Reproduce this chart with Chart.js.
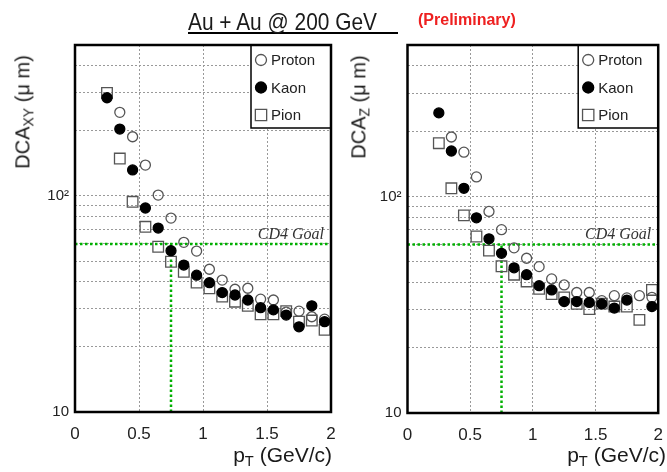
<!DOCTYPE html>
<html>
<head>
<meta charset="utf-8">
<script src="https://cdn.jsdelivr.net/npm/chart.js@4/dist/chart.umd.min.js"></script>
<style>
  body { margin: 0; background: #fff; }
  #wrap { position: relative; width: 667px; height: 472px; overflow: hidden;
          font-family: "Liberation Sans", Arial, sans-serif; color: #1a1a1a; }
  canvas { position: absolute; top: 0; }
  .lbl { position: absolute; white-space: nowrap; }
  .ytitle { font-size: 20px; transform: translate(-50%, -50%) rotate(-90deg); }
  .xtitle { font-size: 21px; transform: translateX(-100%); }
  sub { font-size: 70%; vertical-align: -0.3em; }
</style>
</head>
<body>
<div id="wrap">
  <canvas id="cxy" width="340" height="472" style="left:0;width:340px;height:472px"></canvas>
  <canvas id="cz" width="327" height="472" style="left:340px;width:327px;height:472px"></canvas>

  <div class="lbl" style="left:188px;top:8px;width:210px;height:24px;border-bottom:2px solid #000;">
    <span style="display:inline-block;font-size:24px;transform:scaleX(0.87);transform-origin:left;">Au + Au @ 200 GeV</span>
  </div>
  <div class="lbl" style="left:418px;top:11px;font-size:16px;font-weight:bold;color:#ee2020;">(Preliminary)</div>

  <div class="lbl ytitle" style="left:24px;top:112px;">DCA<sub>XY</sub> (μ m)</div>
  <div class="lbl ytitle" style="left:360px;top:107px;">DCA<sub>Z</sub> (μ m)</div>
  <div class="lbl xtitle" style="left:332px;top:443px;">p<sub>T</sub> (GeV/c)</div>
  <div class="lbl xtitle" style="left:666px;top:443px;">p<sub>T</sub> (GeV/c)</div>
</div>

<script>
// pT bin centres (GeV/c)
const pt = [0.25, 0.35, 0.45, 0.55, 0.65, 0.75, 0.85, 0.95, 1.05, 1.15, 1.25, 1.35, 1.45, 1.55, 1.65, 1.75, 1.85, 1.95];

// DCA_XY (um)
const protonXY = [null, 244, 188, 139, 101, 79, 61, 55.6, 45.8, 40.8, 37, 37.4, 33.3, 33, 29, 29.3, 27.6, 26.9];
const kaonXY   = [285, 204, 132, 88, 71, 55.8, 47.9, 43, 39.7, 35.7, 34.8, 33, 30.4, 29.7, 28.1, 24.8, 31, 26.2];
const pionXY   = [300, 149, 94, 72, 58.2, 49.6, 44.6, 39.7, 37.4, 34.2, 32.4, 31, 28.3, 28.3, 29.3, 26.2, 26.5, 24];

// DCA_Z (um)
const protonZ = [null, 188, 160, 123, 85.2, 70.2, 57.9, 51.8, 47.4, 41.6, 39, 36, 36, 33, 34.8, 34, 34.8, 34.2];
const kaonZ   = [243, 162, 109, 79.6, 63.7, 54.6, 46.8, 43.5, 38.7, 37, 32.7, 32.7, 32.4, 31.9, 30.5, 33.2, null, 31];
const pionZ   = [176, 109, 81.7, 65.3, 56.2, 47.6, 43.5, 40.5, 37.4, 35.4, 34.2, 31.9, 30.2, 32, 31, 31, 26.9, 37];

// CD4 goal
const goalDCA = 60;
const goalPt = 0.75;

const xTicks = [0, 0.5, 1, 1.5, 2];
const yTicks = [10, 20, 30, 40, 50, 60, 70, 80, 90, 100, 200, 300, 400, 500];
const yLabels = { 10: "10", 100: "10²" };

Chart.defaults.font.family = '"Liberation Sans", Arial, sans-serif';
Chart.defaults.color = "#222";

const pts = (ys) => pt.map((x, i) => ({ x: x, y: ys[i] })).filter(p => p.y !== null);

function drawMarker(ctx, style, x, y, r, fill, stroke) {
  ctx.beginPath();
  if (style === "rect") {
    const s = r * Math.SQRT1_2;
    ctx.rect(x - s, y - s, 2 * s, 2 * s);
  } else {
    ctx.arc(x, y, r, 0, Math.PI * 2);
  }
  ctx.fillStyle = fill;
  ctx.fill();
  ctx.lineWidth = 1.3;
  ctx.strokeStyle = stroke;
  ctx.stroke();
}

// legend in the top right corner of the plot
const boxLegend = {
  id: "boxLegend",
  afterDatasetsDraw(chart) {
    const { ctx, chartArea: a } = chart;
    const w = 80, h = 83, x0 = a.right - w, y0 = a.top;
    ctx.save();
    ctx.fillStyle = "#fff";
    ctx.fillRect(x0, y0, w, h);
    ctx.lineWidth = 1.5;
    ctx.strokeStyle = "#000";
    ctx.strokeRect(x0, y0, w, h);
    ctx.font = '15px "Liberation Sans", Arial';
    ctx.textBaseline = "middle";
    chart.data.datasets.filter(d => !d.goal).forEach((d, i) => {
      const cy = y0 + 15 + i * 27.5;
      drawMarker(ctx, d.pointStyle, x0 + 10, cy, d.pointStyle === "rect" ? 8 : 5.5, d.pointBackgroundColor, d.pointBorderColor);
      ctx.fillStyle = "#222";
      ctx.fillText(d.label, x0 + 20, cy + 1);
    });
    ctx.restore();
  }
};

// "CD4 Goal" text + frame
const extras = {
  id: "extras",
  afterDatasetsDraw(chart) {
    const { ctx, chartArea: a } = chart;
    const y = chart.scales.y.getPixelForValue(goalDCA);
    ctx.save();
    ctx.font = 'italic 16px "Liberation Serif", "Times New Roman", serif';
    ctx.fillStyle = "#333";
    ctx.textAlign = "right";
    ctx.fillText("CD4 Goal", a.right - 7, y - 5);
    ctx.restore();
  },
  afterDraw(chart) {
    const { ctx, chartArea: a } = chart;
    ctx.save();
    ctx.lineWidth = 2.5;
    ctx.strokeStyle = "#000";
    ctx.strokeRect(a.left, a.top, a.right - a.left, a.bottom - a.top);
    ctx.restore();
  }
};

function panel(id, proton, kaon, pion, area) {
  const cv = document.getElementById(id);
  const W = cv.width, H = cv.height;
  const goalStyle = {
    goal: true, showLine: true, pointRadius: 0, borderColor: "#00b000",
    borderWidth: 2.5, borderDash: [2.5, 2.5], order: 10
  };
  return new Chart(cv.getContext("2d"), {
    type: "scatter",
    data: {
      datasets: [
        { label: "Proton", data: pts(proton), pointStyle: "circle", pointRadius: 5,
          pointBackgroundColor: "rgba(0,0,0,0)", pointBorderColor: "#555", pointBorderWidth: 1.3, order: 1 },
        { label: "Kaon", data: pts(kaon), pointStyle: "circle", pointRadius: 5,
          pointBackgroundColor: "#000", pointBorderColor: "#000", pointBorderWidth: 1.3, order: 0 },
        { label: "Pion", data: pts(pion), pointStyle: "rect", pointRadius: 7.5,
          pointBackgroundColor: "rgba(0,0,0,0)", pointBorderColor: "#555", pointBorderWidth: 1.3, order: 2 },
        Object.assign({ data: [{ x: 0, y: goalDCA }, { x: 2, y: goalDCA }] }, goalStyle),
        Object.assign({ data: [{ x: goalPt, y: 10 }, { x: goalPt, y: goalDCA }] }, goalStyle)
      ]
    },
    options: {
      responsive: false,
      animation: false,
      events: [],
      layout: { padding: { left: 0, top: area.top, right: W - area.right, bottom: 0 } },
      plugins: { legend: { display: false }, tooltip: { enabled: false } },
      scales: {
        x: {
          type: "linear", min: 0, max: 2,
          afterBuildTicks: (s) => { s.ticks = xTicks.map(v => ({ value: v })); },
          afterFit: (s) => { s.height = H - area.bottom; s.paddingLeft = 0; s.paddingRight = 0; },
          grid: { color: "#999", lineWidth: 1, drawTicks: false },
          border: { display: false, dash: [2, 2] },
          ticks: { padding: 12, autoSkip: false, maxRotation: 0, color: "#222",
                   font: { size: 17 }, callback: (v) => String(v) }
        },
        y: {
          type: "logarithmic", min: 10, max: 500,
          afterBuildTicks: (s) => { s.ticks = yTicks.map(v => ({ value: v })); },
          afterFit: (s) => { s.width = area.left; s.paddingTop = 0; s.paddingBottom = 0; },
          grid: { color: "#999", lineWidth: 1, drawTicks: false },
          border: { display: false, dash: [2, 2] },
          ticks: { padding: 6, autoSkip: false, color: "#222", font: { size: 15 },
                   callback: (v) => yLabels[v] || "" }
        }
      }
    },
    plugins: [extras, boxLegend]
  });
}

panel("cxy", protonXY, kaonXY, pionXY, { left: 75, right: 331, top: 45, bottom: 412 });
panel("cz", protonZ, kaonZ, pionZ, { left: 67.5, right: 324, top: 45, bottom: 413 });
</script>
</body>
</html>
